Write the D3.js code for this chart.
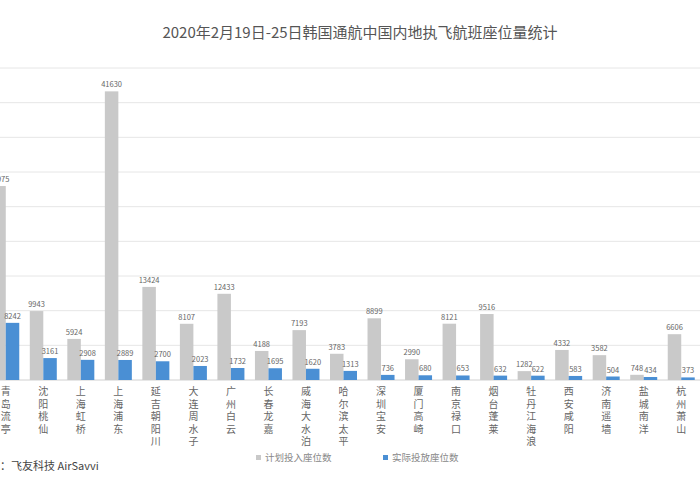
<!DOCTYPE html>
<html><head><meta charset="utf-8">
<script src="https://cdn.jsdelivr.net/npm/d3@7"></script>
<style>body{margin:0;background:#fff}text{font-family:"Noto Sans CJK SC","Noto Sans",sans-serif}</style>
</head><body>
<svg width="700" height="500"></svg>
<script>
var airports = ['青岛流亭','沈阳桃仙','上海虹桥','上海浦东','延吉朝阳川','大连周水子','广州白云','长春龙嘉','威海大水泊','哈尔滨太平','深圳宝安','厦门高崎','南京禄口','烟台蓬莱','牡丹江海浪','西安咸阳','济南遥墙','盐城南洋','杭州萧山'];
var planned = [27975,9943,5924,41630,13424,8107,12433,4188,7193,3783,8899,2990,8121,9516,1282,4332,3582,748,6606];
var actual = [8242,3161,2908,2889,2700,2023,1732,1695,1620,1313,736,680,653,632,622,583,504,434,373];
var seriesNames = ['计划投入座位数','实际投放座位数'];
var yTicks = [0,5000,10000,15000,20000,25000,30000,35000,40000,45000];

var palette = ['#c9c9c9', '#4a8fd4'];
var svg = d3.select("svg");

svg.append("text").attr("x", 360).attr("y", 38).attr("text-anchor", "middle")
    .attr("font-size", 15).attr("fill", "#555")
    .text("2020年2月19日-25日韩国通航中国内地执飞航班座位量统计");

var x = d3.scaleBand().domain(airports).range([-13, 700]);
var y = d3.scaleLinear().domain([0, 45000]).range([380, 68]);

svg.append("g").selectAll("line").data(yTicks).join("line")
    .attr("x1", 0).attr("x2", 700)
    .attr("y1", function (d) { return y(d); }).attr("y2", function (d) { return y(d); })
    .attr("stroke", function (d) { return d === 0 ? "#d0d0d0" : "#e6e6e6"; });

var bw = 13.5;
[planned, actual].forEach(function (vals, s) {
    var g = svg.append("g");
    g.selectAll("rect").data(vals).join("rect")
        .attr("x", function (d, i) { return x(airports[i]) + x.bandwidth() / 2 - bw + s * bw; })
        .attr("y", function (d) { return y(d); })
        .attr("width", bw)
        .attr("height", function (d) { return y(0) - y(d); })
        .attr("fill", palette[s]);
    g.selectAll("text").data(vals).join("text")
        .attr("x", function (d, i) { return x(airports[i]) + x.bandwidth() / 2 - bw / 2 + s * bw; })
        .attr("y", function (d) { return y(d) - 4; })
        .attr("text-anchor", "middle").attr("font-size", 7.5).attr("fill", "#666")
        .text(function (d) { return d; });
});

// vertical category labels, one character per line
var chars = [];
airports.forEach(function (a) {
    a.split('').forEach(function (c, k) { chars.push({a: a, c: c, k: k}); });
});
svg.append("g").selectAll("text").data(chars).join("text")
    .attr("x", function (d) { return x(d.a) + x.bandwidth() / 2; })
    .attr("y", function (d) { return 395 + d.k * 12.5; })
    .attr("font-size", 10).attr("fill", "#666").attr("text-anchor", "middle")
    .text(function (d) { return d.c; });

svg.append("text").attr("x", -22).attr("y", 470).attr("font-size", 11).attr("fill", "#444")
    .text("来源：飞友科技 AirSavvi");

var leg = svg.append("g").selectAll("g").data(seriesNames).join("g")
    .attr("transform", function (d, i) { return "translate(" + (256 + i * 127) + ",461)"; });
leg.append("rect").attr("y", -6).attr("width", 5).attr("height", 5)
    .attr("fill", function (d, i) { return palette[i]; });
leg.append("text").attr("x", 9).attr("y", 0).attr("font-size", 9.5).attr("fill", "#888")
    .text(function (d) { return d; });
</script>
</body></html>
